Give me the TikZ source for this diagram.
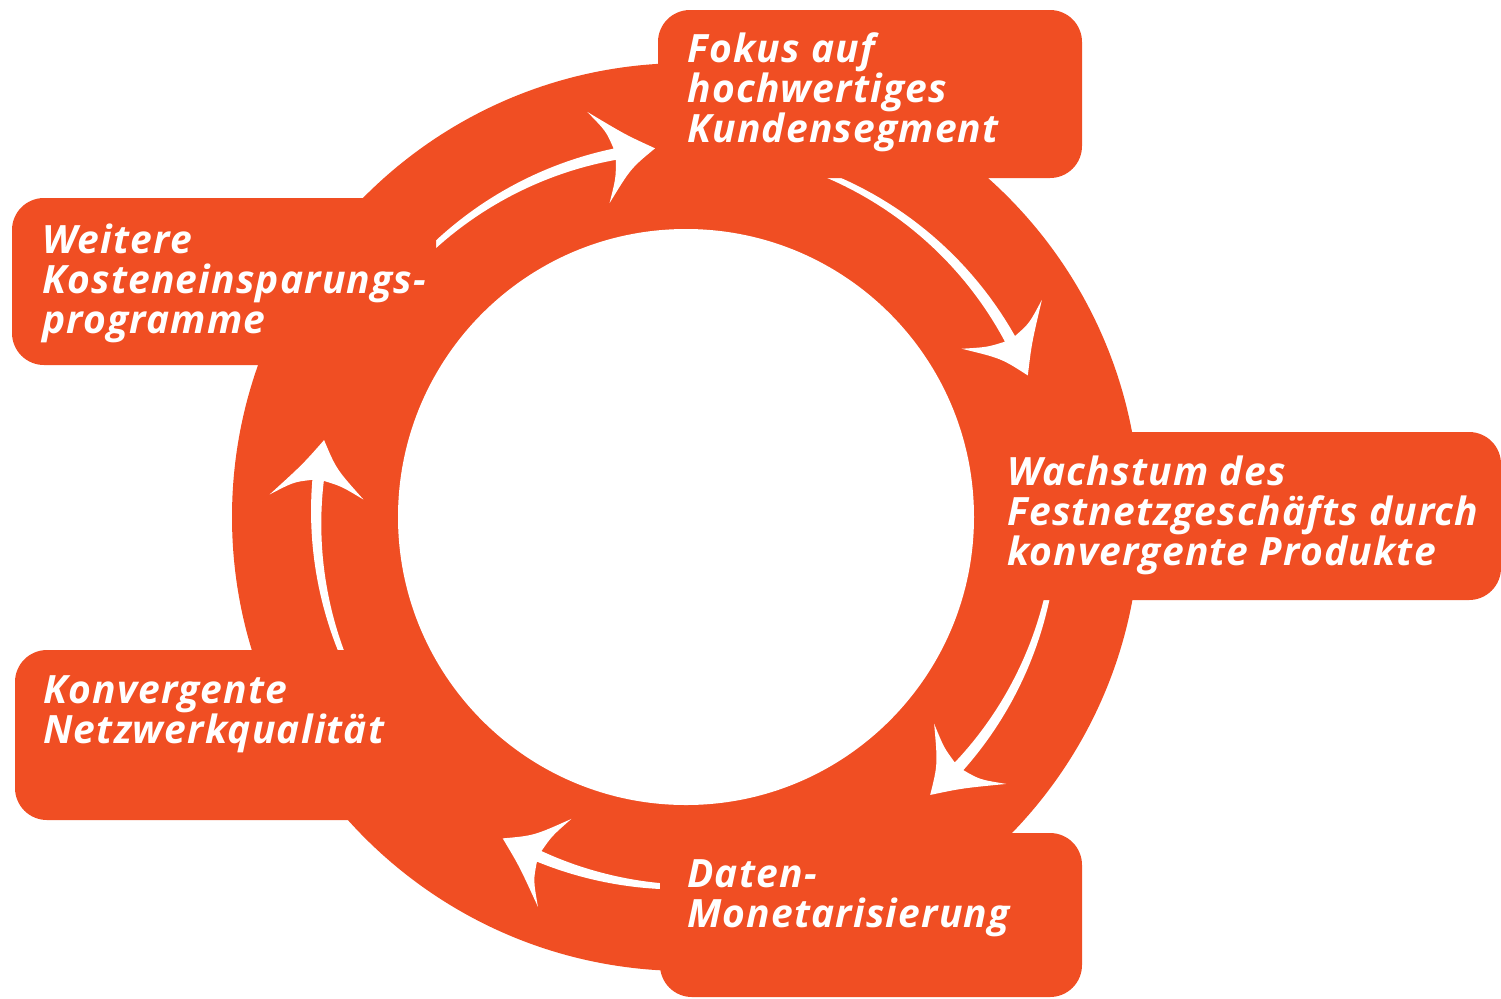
\documentclass[tikz,border=0pt]{standalone}
\usepackage{fontspec}
\setmainfont{Open Sans}[LetterSpace=3]
\definecolor{ringc}{RGB}{240,78,35}
\newcommand\ringarrow[2]{%
  \pgfmathsetmacro\tn{#2+6.3}%
  \pgfmathsetmacro\tb{#2+8.9}%
  \fill[white] plot[domain=0:1,samples=30,variable=\t] ({#1+(\tn-(#1))*\t}:{372.5+3*\t})
    .. controls ({\tn+0.6}:{394}) .. ({\tb}:{417})
    .. controls ({#2+4.2}:{387}) .. ({#2}:{370})
    .. controls ({#2+4.2}:{353}) .. ({\tb}:{323})
    .. controls ({\tn+0.6}:{346}) .. ({\tn}:{364})
    -- plot[domain=0:1,samples=30,variable=\t] ({\tn+((#1)-\tn)*\t}:{364+3.5*\t}) -- cycle;}
\begin{document}
\begin{tikzpicture}[x=0.5pt,y=-0.5pt,
  lbl/.style={anchor=base west, text=white, align=left, inner sep=0pt,
    font=\fontsize{19.5}{20}\selectfont\bfseries\itshape},
  boxfill/.style={fill=ringc, rounded corners=16pt}]
\useasboundingbox (0,0) rectangle (1501,998);
\coordinate (C) at (686,517);
\fill[ringc] (C) circle (454);
\fill[white] (C) circle (288);
\begin{scope}[shift={(686,517)}, yscale=-1]
  \ringarrow{136}{94.8}
  \ringarrow{70}{22.5}
  \ringarrow{-10}{-48.7}
  \ringarrow{-91}{-119.7}
  \ringarrow{204}{168}
\end{scope}
\fill[boxfill] (658,10) rectangle (1082,178);
\fill[boxfill] (12,198) rectangle (436,365);
\fill[boxfill] (1000,432) rectangle (1501,600);
\fill[boxfill] (15,650) rectangle (420,820);
\fill[boxfill] (660,833) rectangle (1082,997);
\node[lbl] (t1) at (687,142) {Fokus auf\\hochwertiges\\Kundensegment};
\node[lbl] (t2) at (42,333) {Weitere\\Kosteneinsparungs-\\programme};
\node[lbl] (t3) at (1007,565) {Wachstum des\\Festnetzgeschäfts durch\\konvergente Produkte};
\node[lbl] (t4) at (43,743) {Konvergente\\Netzwerkqualität};
\node[lbl] (t5) at (687,927) {Daten-\\Monetarisierung};
\end{tikzpicture}
\end{document}
